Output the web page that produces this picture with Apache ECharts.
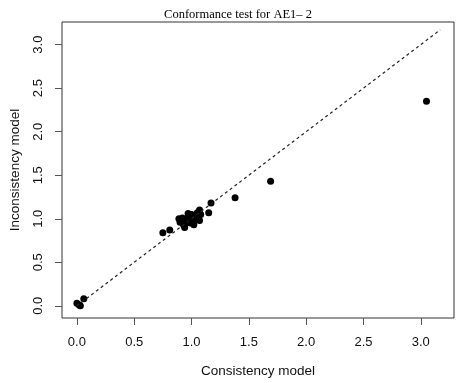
<!DOCTYPE html>
<html>
<head>
<meta charset="utf-8">
<script src="https://cdn.jsdelivr.net/npm/echarts@6/dist/echarts.min.js"></script>
<style>
  html, body { margin: 0; padding: 0; background: #fff; }
  #chart { width: 457px; height: 383px; }
</style>
</head>
<body>
<div id="chart"></div>
<script>
// values
const consistency = [
  0.00, 0.02, 0.03, 0.06,
  0.75, 0.81, 0.89, 0.94, 0.90, 0.92, 0.93, 0.95, 0.96, 0.97, 0.97, 0.98, 0.99,
  1.00, 1.00, 1.01, 1.02, 1.02, 1.03, 1.04, 1.05, 1.05, 1.06, 1.07, 1.08, 1.07,
  1.15, 1.17, 1.38, 1.69, 3.05
];
const inconsistency = [
  0.03, 0.01, 0.00, 0.08,
  0.84, 0.87, 1.00, 0.90, 0.96, 1.01, 0.93, 0.95, 1.00, 0.98, 1.06, 1.03, 0.95,
  1.00, 1.05, 0.97, 1.02, 0.93, 0.99, 1.04, 1.00, 1.07, 1.02, 0.98, 1.05, 1.10,
  1.07, 1.18, 1.24, 1.43, 2.35
];
const tickValues = [0, 0.5, 1, 1.5, 2, 2.5, 3];
const refLine = [[0, 0], [3.17, 3.17]];

const points = consistency.map((x, i) => [x, inconsistency[i]]);
const fmt = v => v.toFixed(1);

const chart = echarts.init(document.getElementById('chart'));
chart.setOption({
  animation: false,
  title: {
    text: 'Conformance test for AE1\u2013 2',
    left: 233, top: 3, textAlign: 'center',
    textStyle: { fontFamily: 'Liberation Serif', fontSize: 12.5, fontWeight: 'normal', color: '#000' }
  },
  grid: {
    left: 62, top: 22, right: 3, bottom: 65,
    show: true, borderColor: '#333', borderWidth: 1, backgroundColor: 'transparent'
  },
  xAxis: {
    type: 'value', min: -0.13, max: 3.29,
    name: 'Consistency model', nameLocation: 'middle', nameGap: 46,
    nameTextStyle: { fontFamily: 'Liberation Sans', fontSize: 13.5, color: '#111' },
    axisLine: { show: false, onZero: false },
    splitLine: { show: false },
    axisTick: { show: true, inside: false, length: 7, lineStyle: { color: '#555' }, customValues: tickValues },
    axisLabel: { customValues: tickValues, formatter: fmt, margin: 18,
      fontFamily: 'Liberation Sans', fontSize: 13, color: '#111' }
  },
  yAxis: {
    type: 'value', min: -0.14, max: 3.26,
    name: 'Inconsistency model', nameLocation: 'middle', nameGap: 40,
    nameTextStyle: { fontFamily: 'Liberation Sans', fontSize: 13.5, color: '#111' },
    axisLine: { show: false, onZero: false },
    splitLine: { show: false },
    axisTick: { show: true, inside: false, length: 7, lineStyle: { color: '#555' }, customValues: tickValues },
    axisLabel: { customValues: tickValues, formatter: fmt, margin: 17, rotate: 90,
      fontFamily: 'Liberation Sans', fontSize: 13, color: '#111' }
  },
  series: [
    {
      type: 'line', data: refLine, symbol: 'none', silent: true,
      lineStyle: { color: '#222', width: 1.2, type: [3, 3] }
    },
    {
      type: 'scatter', data: points, symbolSize: 7,
      itemStyle: { color: '#000', opacity: 1 }
    }
  ]
});
</script>
</body>
</html>
